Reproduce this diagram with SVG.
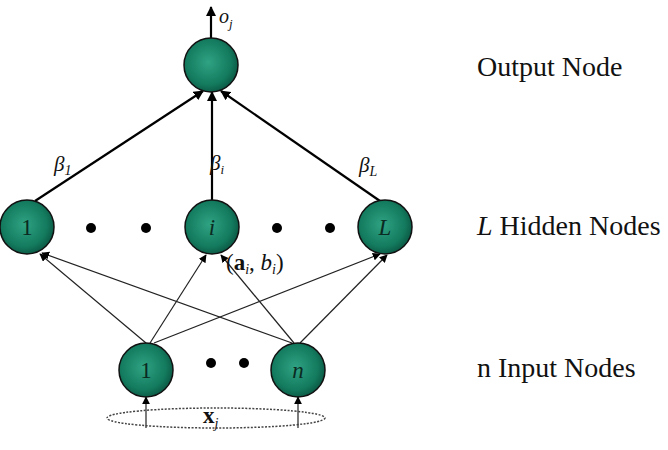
<svg xmlns="http://www.w3.org/2000/svg" width="668" height="450" viewBox="0 0 668 450">
<defs>
<radialGradient id="g" cx="0.45" cy="0.45" r="0.6">
<stop offset="0" stop-color="#2fa383"/>
<stop offset="0.7" stop-color="#137a5e"/>
<stop offset="1" stop-color="#0a5240"/>
</radialGradient>
<marker id="ah" viewBox="0 0 10 10" refX="9" refY="5" markerWidth="8" markerHeight="8" markerUnits="userSpaceOnUse" orient="auto">
<path d="M0,0 L10,5 L0,10 z" fill="#000"/>
</marker>
<marker id="ahb" viewBox="0 0 10 10" refX="9" refY="5" markerWidth="10" markerHeight="10" markerUnits="userSpaceOnUse" orient="auto">
<path d="M0,0 L10,5 L0,10 z" fill="#000"/>
</marker>
</defs>
<style>
.node{fill:url(#g);stroke:#111;stroke-width:1.5}
.t{font-family:"Liberation Serif",serif;fill:#111}
.nl{font-family:"Liberation Serif",serif;font-size:23px;fill:#0a2a22;text-anchor:middle}
.thin{stroke:#222;stroke-width:1.2;fill:none;marker-end:url(#ah)}
.thick{stroke:#000;stroke-width:2.2;fill:none;marker-end:url(#ahb)}
.lab{font-family:"Liberation Serif",serif;fill:#111}
</style>
<rect width="668" height="450" fill="#fff"/>
<g id="connectors">
<line class="thick" x1="211" y1="38" x2="211" y2="7"/>
<line class="thick" x1="35" y1="201" x2="203" y2="91"/>
<line class="thick" x1="212" y1="200" x2="212" y2="92"/>
<line class="thick" x1="380" y1="201" x2="221" y2="91"/>
<line class="thin" x1="146" y1="343" x2="40" y2="254"/>
<line class="thin" x1="150" y1="343" x2="206" y2="255"/>
<line class="thin" x1="154" y1="343" x2="380" y2="254"/>
<line class="thin" x1="292" y1="343" x2="42" y2="253"/>
<line class="thin" x1="294" y1="343" x2="221" y2="255"/>
<line class="thin" x1="300" y1="343" x2="387" y2="255"/>
<line class="thin" x1="146" y1="428" x2="146" y2="397"/>
<line class="thin" x1="298" y1="428" x2="298" y2="397"/>
</g>
<ellipse cx="216" cy="418" rx="109" ry="10" fill="none" stroke="#444" stroke-width="1.5" stroke-dasharray="2,1.5"/>
<g id="output"><circle class="node" cx="211" cy="65" r="27"/></g>
<g id="hidden1"><circle class="node" cx="27" cy="227" r="27"/><text class="nl" x="27" y="235">1</text></g>
<g id="hiddeni"><circle class="node" cx="212" cy="227" r="27"/><text class="nl" x="212" y="235" font-style="italic">i</text></g>
<g id="hiddenL"><circle class="node" cx="385" cy="227" r="27"/><text class="nl" x="385" y="235" font-style="italic">L</text></g>
<g id="input1"><circle class="node" cx="146" cy="370" r="27"/><text class="nl" x="146" y="378">1</text></g>
<g id="inputn"><circle class="node" cx="298" cy="370" r="27"/><text class="nl" x="298" y="378" font-style="italic">n</text></g>
<g id="dots" fill="#000">
<circle cx="91" cy="228" r="5"/><circle cx="146" cy="228" r="5"/>
<circle cx="277" cy="228" r="5"/><circle cx="330" cy="228" r="5"/>
<circle cx="211" cy="363" r="5"/><circle cx="244" cy="363" r="5"/>
</g>
<text class="lab" x="219" y="23" font-style="italic" font-size="20">o<tspan font-size="13" dy="5">j</tspan></text>
<text class="lab" x="54" y="171" font-style="italic" font-size="21">β<tspan font-size="14" dy="4">1</tspan></text>
<text class="lab" x="210" y="170" font-style="italic" font-size="21">β<tspan font-size="13" dy="4">i</tspan></text>
<text class="lab" x="359" y="172" font-style="italic" font-size="21">β<tspan font-size="14" dy="4">L</tspan></text>
<text class="lab" x="226" y="270" font-size="23">(<tspan font-weight="bold">a</tspan><tspan font-size="14" dy="4" font-style="italic">i</tspan><tspan dy="-4">, </tspan><tspan font-style="italic">b</tspan><tspan font-size="14" dy="4" font-style="italic">i</tspan><tspan dy="-4">)</tspan></text>
<text class="lab" x="203" y="423" font-weight="bold" font-size="23">x<tspan font-size="14" dy="5" font-style="italic" font-weight="normal">j</tspan></text>
<text class="t" x="477" y="76" font-size="28">Output Node</text>
<text class="t" x="477" y="235" font-size="28"><tspan font-style="italic">L</tspan> Hidden Nodes</text>
<text class="t" x="477" y="377" font-size="28">n Input Nodes</text>
</svg>
